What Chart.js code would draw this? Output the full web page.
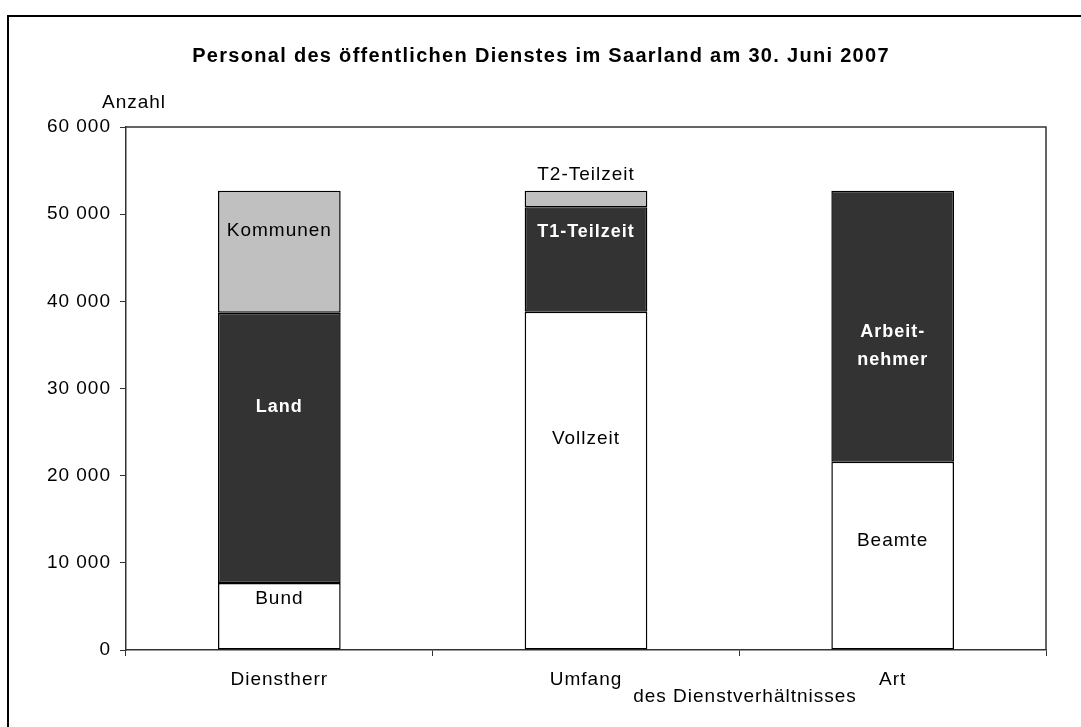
<!DOCTYPE html>
<html lang="de">
<head>
<meta charset="UTF-8">
<title>Personal des öffentlichen Dienstes im Saarland</title>
<script src="https://cdn.jsdelivr.net/npm/chart.js"></script>
<style>
  html, body { margin: 0; padding: 0; background: #fff; }
  #wrap { width: 1081px; height: 727px; }
</style>
</head>
<body>
<div id="wrap"><canvas id="grafico" width="1081" height="727"></canvas></div>

<script>
    // Daten (gelesen aus der Grafik)
    const kategorien = ['Dienstherr', 'Umfang', 'Art'];
    const unten = [7700, 38800, 21600];     // Bund / Vollzeit / Beamte
    const mitte = [31000, 12000, 31100];    // Land / T1-Teilzeit / Arbeitnehmer
    const oben = [14000, 1900, null];       // Kommunen / T2-Teilzeit
    const beschriftungUnten = ['Bund', 'Vollzeit', 'Beamte'];
    const beschriftungMitte = ['Land', 'T1-Teilzeit', ['Arbeit-', 'nehmer']];
    const beschriftungOben = ['Kommunen', 'T2-Teilzeit', ''];
    const yTicks = [0, 10000, 20000, 30000, 40000, 50000, 60000];

    const schrift = '"Liberation Sans", Arial, sans-serif';

    function tausender(v) {
        return String(v).replace(/\B(?=(\d{3})+(?!\d))/g, ' ');
    }

    // Buchstabenabstand wie im Original (breiter gesetzte Schrift)
    const abstand = {
        id: 'abstand',
        beforeLayout(chart) { chart.ctx.letterSpacing = '1px'; },
        beforeDraw(chart) { chart.ctx.letterSpacing = '1px'; }
    };

    // Rahmen, Titel, Achsentexte
    const rahmen = {
        id: 'rahmen',
        beforeDraw(chart) {
            const ctx = chart.ctx;
            ctx.save();
            ctx.strokeStyle = '#000';
            ctx.lineWidth = 2;
            ctx.beginPath();
            ctx.moveTo(8, 727);
            ctx.lineTo(8, 16);
            ctx.lineTo(1081, 16);
            ctx.stroke();
            ctx.restore();
        },
        afterDraw(chart) {
            const ctx = chart.ctx;
            const a = chart.chartArea;
            ctx.save();
            ctx.strokeStyle = '#333';
            ctx.lineWidth = 1.5;
            ctx.beginPath();
            ctx.moveTo(a.left, a.top);
            ctx.lineTo(a.right, a.top);
            ctx.lineTo(a.right, a.bottom);
            ctx.stroke();

            ctx.fillStyle = '#000';
            ctx.textAlign = 'center';
            ctx.textBaseline = 'middle';
            ctx.letterSpacing = '1.3px';
            ctx.font = 'bold 20px ' + schrift;
            ctx.fillText('Personal des öffentlichen Dienstes im Saarland am 30. Juni 2007', 541, 56);
            ctx.letterSpacing = '1px';
            ctx.font = '19px ' + schrift;
            ctx.fillText('Anzahl', 134, 103);
            ctx.fillText('des Dienstverhältnisses', 745, 697);
            ctx.restore();
        }
    };

    // Beschriftung der Segmente
    const segmente = {
        id: 'segmente',
        afterDatasetsDraw(chart, args, opts) {
            const ctx = chart.ctx;
            const y = chart.scales.y;
            ctx.save();
            ctx.letterSpacing = '1px';
            ctx.textAlign = 'center';
            ctx.textBaseline = 'middle';
            chart.data.datasets.forEach((ds, i) => {
                const meta = chart.getDatasetMeta(i);
                ds.beschriftung.forEach((text, j) => {
                    if (!text) return;
                    const el = meta.data[j];
                    const py = y.getPixelForValue(opts.anker[i][j]);
                    ctx.fillStyle = ds.textFarbe;
                    ctx.font = ds.textFarbe === '#fff' ? 'bold 18px ' + schrift : '19px ' + schrift;
                    if (Array.isArray(text)) {
                        text.forEach((t, k) => {
                            ctx.fillText(t, el.x, py + (k - (text.length - 1) / 2) * 28);
                        });
                    } else {
                        ctx.fillText(text, el.x, py);
                    }
                });
            });
            ctx.restore();
        }
    };

    new Chart(document.getElementById('grafico'), {
        type: 'bar',
        data: {
            labels: kategorien,
            datasets: [
                { data: unten, backgroundColor: '#ffffff', beschriftung: beschriftungUnten, textFarbe: '#000' },
                { data: mitte, backgroundColor: '#333333', beschriftung: beschriftungMitte, textFarbe: '#fff' },
                { data: oben, backgroundColor: '#c0c0c0', beschriftung: beschriftungOben, textFarbe: '#000' }
            ].map(ds => Object.assign(ds, {
                borderColor: '#000',
                borderWidth: 1.5,
                borderSkipped: false,
                barPercentage: 0.4,
                categoryPercentage: 1
            }))
        },
        options: {
            responsive: false,
            devicePixelRatio: 1,
            animation: false,
            layout: { padding: { top: 127, right: 35, left: 0, bottom: 0 } },
            plugins: {
                legend: { display: false },
                title: { display: false },
                tooltip: { enabled: false },
                segmente: {
                    // Lage der Texte in Werten der y-Achse
                    anker: [
                        [5900, 24200, 12500],
                        [27900, 48000, 34900],
                        [48100, 54500, 0]
                    ]
                }
            },
            scales: {
                x: {
                    stacked: true,
                    grid: { offset: true, drawOnChartArea: false, drawTicks: true, tickLength: 6, color: '#333', lineWidth: 1 },
                    border: { color: '#333', width: 1.5 },
                    ticks: { color: '#000', font: { family: schrift, size: 19 }, padding: 12, maxRotation: 0 },
                    afterFit(s) { s.height = 77; }
                },
                y: {
                    stacked: true,
                    min: 0,
                    max: 60000,
                    afterBuildTicks(s) { s.ticks = yTicks.map(v => ({ value: v })); },
                    grid: { drawOnChartArea: false, drawTicks: true, tickLength: 6, color: '#333', lineWidth: 1 },
                    border: { color: '#333', width: 1.5 },
                    ticks: { color: '#000', font: { family: schrift, size: 19 }, padding: 9, callback: v => tausender(v) },
                    afterFit(s) { s.width = 126; }
                }
            }
        },
        plugins: [abstand, rahmen, segmente]
    });
</script>
</body>
</html>
